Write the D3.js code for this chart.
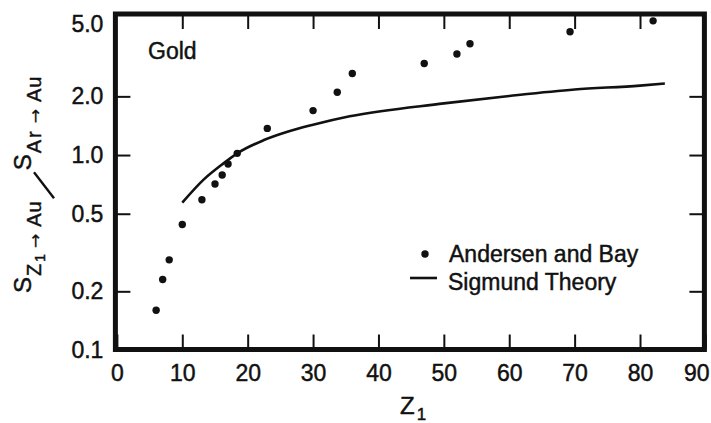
<!DOCTYPE html>
<html>
<head>
<meta charset="utf-8">
<script src="https://cdn.jsdelivr.net/npm/d3@7"></script>
<style>
    body { margin: 0; background: #fff; }
    text { font-family: "Liberation Sans", Arial, Helvetica, sans-serif; fill: #111; stroke: #111; stroke-width: 0.45px; }
    .arrow { font-family: "DejaVu Sans", sans-serif; stroke-width: 0.2px; }
</style>
</head>
<body>
<script>
const andersenZ = [6, 7, 8, 10, 13, 15, 16.1, 17, 18.4, 23, 30, 33.7, 36, 47, 52, 54, 69.3, 82];
const andersenRatio = [0.16, 0.23, 0.29, 0.44, 0.59, 0.71, 0.79, 0.90, 1.02, 1.37, 1.69, 2.10, 2.62, 2.95, 3.30, 3.72, 4.29, 4.88];

// Sigmund theory curve
const sigmundZ = [10, 13.3, 16.3, 18.4, 22.4, 26.2, 30, 35.6, 50, 60, 70, 80, 83.8];
const sigmundRatio = [0.57, 0.75, 0.906, 1.02, 1.19, 1.32, 1.43, 1.58, 1.84, 2.01, 2.17, 2.27, 2.33];

const xTicks = [0, 10, 20, 30, 40, 50, 60, 70, 80, 90];
const yTicks = [0.1, 0.2, 0.5, 1, 2, 5];
const legendLabels = ["Andersen and Bay", "Sigmund Theory"];

const width = 711,
    height = 423;

const svg = d3.select("body")
    .append("svg")
    .attr("width", width)
    .attr("height", height);

const x = d3.scaleLinear().domain([0, 90]).range([116.9, 705.4]);
const y = d3.scaleLog().domain([0.1, 5.29]).range([350, 14]);

const frameLeft = x(0) - 1.5,
    frameRight = x(90) - 1,
    frameTop = y.range()[1],
    frameBottom = y.range()[0] - 0.5;

function styleAxis(g) {
    g.attr("font-family", null).attr("font-size", null);
    g.select(".domain").remove();
    g.selectAll(".tick line").attr("stroke", "#111").attr("stroke-width", 2);
    g.selectAll(".tick text").style("font-size", "23px").attr("fill", "#111");
}

// bottom axis with labels
svg.append("g")
    .attr("transform", `translate(0,${frameBottom})`)
    .call(d3.axisBottom(x).tickValues(xTicks).tickSize(-15).tickPadding(15).tickFormat(d3.format("d")))
    .call(styleAxis)
    // last label is pulled in so it stays on the page
    .call(g => g.selectAll(".tick text").filter(d => d === 90).attr("text-anchor", "end").attr("x", 709 - x(90)));

// top axis, ticks only
svg.append("g")
    .attr("transform", `translate(0,${frameTop})`)
    .call(d3.axisTop(x).tickValues(xTicks.slice(1, -1)).tickSize(-15).tickFormat(""))
    .call(styleAxis);

// left axis with labels
svg.append("g")
    .attr("transform", `translate(${frameLeft},0)`)
    .call(d3.axisLeft(y).tickValues(yTicks).tickSize(-15).tickPadding(12).tickFormat(d3.format(".1f")))
    .call(styleAxis)
    .call(g => g.selectAll(".tick").filter(d => d === 0.1 || d === 5).select("line").remove())
    .call(g => g.selectAll(".tick text").attr("y", d => Math.max(0, 24 - y(d))));

// right axis, ticks only
svg.append("g")
    .attr("transform", `translate(${frameRight},0)`)
    .call(d3.axisRight(y).tickValues(yTicks.slice(1, -1)).tickSize(-15).tickFormat(""))
    .call(styleAxis);

// frame
svg.append("rect")
    .attr("x", frameLeft)
    .attr("y", frameTop)
    .attr("width", frameRight - frameLeft)
    .attr("height", frameBottom - frameTop)
    .attr("fill", "none")
    .attr("stroke", "#111")
    .attr("stroke-width", 5);

// theory curve
const line = d3.line()
    .x((d, i) => x(sigmundZ[i]))
    .y(d => y(d))
    .curve(d3.curveMonotoneX);

svg.append("path")
    .datum(sigmundRatio)
    .attr("d", line)
    .attr("fill", "none")
    .attr("stroke", "#111")
    .attr("stroke-width", 2.6);

// measured points
svg.append("g")
    .selectAll("circle")
    .data(andersenRatio)
    .join("circle")
    .attr("cx", (d, i) => x(andersenZ[i]))
    .attr("cy", d => y(d))
    .attr("r", 3.7)
    .attr("fill", "#111");

// "Gold"
svg.append("text")
    .attr("x", 148)
    .attr("y", 59)
    .style("font-size", "23px")
    .text("Gold");

// legend
const legend = svg.append("g");
legend.append("circle").attr("cx", 425).attr("cy", 254).attr("r", 3.7).attr("fill", "#111");
legend.append("line")
    .attr("x1", 410).attr("x2", 437)
    .attr("y1", 278).attr("y2", 278)
    .attr("stroke", "#111").attr("stroke-width", 2.6);
legend.selectAll("text")
    .data(legendLabels)
    .join("text")
    .attr("x", (d, i) => i === 0 ? 449 : 448)
    .attr("y", (d, i) => 262 + i * 28)
    .style("font-size", "23px")
    .text(d => d);

// x title
const xTitle = svg.append("text")
    .attr("x", 400)
    .attr("y", 414)
    .style("font-size", "24px");
xTitle.append("tspan").text("Z");
xTitle.append("tspan").attr("dx", 2).attr("dy", 6).style("font-size", "17px").text("1");

// y title: S_{Z1 -> Au} / S_{Ar -> Au}
const yTitle = svg.append("g").attr("transform", "translate(31,293) rotate(-90)");

function subLabel(g, xPos, sub, subsub) {
    const t = g.append("text").attr("x", xPos).attr("y", 0);
    t.append("tspan").style("font-size", "24px").attr("letter-spacing", 1).text("S");
    t.append("tspan").style("font-size", "20px").attr("dy", 10).attr("letter-spacing", 2).text(sub);
    if (subsub) {
        t.append("tspan").style("font-size", "14px").attr("dy", 4).text(subsub);
        t.append("tspan").attr("class", "arrow").style("font-size", "17px").attr("dx", 6).attr("dy", -4).text("→");
    } else {
        t.append("tspan").attr("class", "arrow").style("font-size", "17px").attr("dx", 6).text("→");
    }
    t.append("tspan").style("font-size", "20px").attr("dx", 7).attr("letter-spacing", 1).text("Au");
    const box = t.node().getBBox();
    return box.x + box.width;
}

const w1 = subLabel(yTitle, 0, "Z", "1");
yTitle.append("line")
    .attr("x1", w1 + 2).attr("y1", 23)
    .attr("x2", w1 + 28).attr("y2", 3)
    .attr("stroke", "#111").attr("stroke-width", 2.4);
subLabel(yTitle, w1 + 30, "Ar", null);
</script>
</body>
</html>
